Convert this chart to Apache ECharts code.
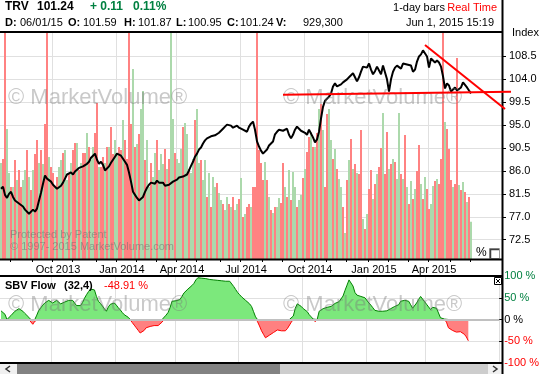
<!DOCTYPE html>
<html><head><meta charset="utf-8">
<script src="https://cdn.jsdelivr.net/npm/echarts@6/dist/echarts.min.js"></script>
<style>html,body{margin:0;padding:0;background:#fff}#c{width:542px;height:374px}</style>
</head><body><div id="c"></div>
<script>
// ---- data (one slot = 2 trading days) ----
const price = [
82.5,82.9,81.3,80.7,81.5,81.9,80.9,80.2,80.0,79.6,
79.4,79.0,78.4,78.2,77.6,77.8,78.4,78.0,78.6,80.2,
81.7,83.5,85.1,84.5,84.3,83.9,83.3,82.9,82.5,82.5,
83.1,83.7,84.5,85.3,85.1,85.7,85.3,85.9,85.9,86.6,
86.3,86.9,86.7,87.4,87.8,88.6,89.0,89.4,88.2,87.4,
87.8,87.2,86.1,85.9,86.9,87.6,88.2,88.8,89.4,89.2,
89.0,88.4,87.8,87.2,85.7,83.9,81.9,81.3,80.7,80.2,
80.2,80.9,81.9,82.7,83.3,83.7,83.9,83.5,84.1,83.7,
83.9,83.7,83.1,82.9,83.3,83.5,83.9,84.1,84.3,84.7,
84.5,84.9,85.1,85.3,86.1,87.0,87.8,88.8,89.4,90.2,
90.6,91.4,92.0,92.4,92.4,92.8,92.8,93.0,93.2,93.5,
93.9,94.3,94.7,95.1,95.1,94.9,94.5,94.7,94.9,94.5,
94.3,94.1,93.9,93.7,94.7,95.3,95.7,94.1,91.8,90.8,
90.0,89.4,89.6,90.2,91.0,91.2,91.8,93.2,93.7,94.1,
94.3,93.9,94.1,94.3,93.1,92.4,93.1,94.1,94.7,94.3,
93.9,93.7,93.5,93.1,94.1,94.3,92.6,91.6,92.2,93.7,
96.3,98.6,99.8,100.0,100.6,101.2,102.6,103.2,102.6,102.8,
103.0,103.4,103.6,104.0,104.4,104.6,105.2,104.4,103.6,104.4,
105.5,106.5,106.7,106.3,107.1,105.9,105.0,105.6,106.5,106.3,
105.0,106.7,106.5,104.0,101.6,104.0,105.5,106.3,106.7,106.7,
106.1,107.1,107.3,106.9,107.1,106.7,105.5,105.9,107.5,108.5,
108.9,109.7,109.5,108.5,106.3,108.1,107.7,107.3,107.7,107.3,
106.5,104.6,102.2,103.2,102.8,101.6,102.0,102.4,101.8,101.6,
102.4,103.4,103.2,102.4,101.8,101.24
];
// volume in thousands of shares
const volume = [
2400,2500,6500,3250,2150,1800,1800,2475,1975,2225,
1800,1975,2225,2725,2050,1725,2225,2625,2975,2400,
2725,2375,3375,6500,2550,2300,2150,1800,2050,2300,
2475,2650,2725,1975,2150,2400,2725,2900,2900,2225,
2400,2650,2650,3150,2800,2475,2800,3150,3900,2300,
2300,2550,2400,2800,2800,3300,2625,2975,2650,2800,
2725,3475,2975,2500,6500,3375,4750,2800,2875,3125,
3750,4200,2475,2975,1800,2400,2050,2650,2975,2225,
2625,2375,2750,2250,2500,6500,3500,2650,2500,2400,
2750,3300,3400,3125,2250,2150,2500,3475,3750,2400,
2475,1975,2475,1550,2150,1300,2050,1800,1900,1650,
1475,1375,1225,1550,1375,1300,1550,1225,1375,1500,
2025,1050,1125,1300,1375,1300,1800,1800,6500,2725,
2400,1975,2425,1975,1550,1225,1150,1300,1300,1525,
1400,2400,1800,1550,2225,1475,2175,1800,1300,1475,
1600,2025,2250,2675,3050,3175,2800,2800,3150,3750,
3875,3225,1800,3625,3750,2975,2500,2750,2250,2000,
1800,1300,650,1975,2475,3000,2250,2375,2150,2125,
3225,1000,750,1125,1750,2225,1500,1875,2125,2300,
2775,3650,2125,3175,2250,2375,2500,2425,2000,3650,
2125,2000,3100,1800,1375,1950,1500,1750,2200,2850,
1875,1500,2050,1750,1250,1375,1825,1950,2000,1875,
2500,6500,3425,3250,2750,1975,1800,1875,5025,1850,
1725,1925,1675,1425,1550,929.3
];
// bar colour: g = green (up volume), r = red (down volume)
const barDirection = [
'grrggrgrgr','rggrgrgrrg','rgrrgrrgrg','grggrgrrgr','grrgrggrrg',
'rrgrgrrggr','rgrrrrgrgr','ggrggrggrg','ggrgrggrgg','grggrggrgg',
'rggrgrggrg','grggrgrggr','grgrrgrrrr','rrgrgrgrgg','rrgrgrggrg',
'grgrrgrgrg','rgrrggrgrg','grgrgrgrgr','rgrgrrgrgr','rgrrgrgrgg',
'rgrgrgrgrr','grgrrggrgr','rrgrrrgrrg','rgrgrg'
].join('');
// SBV Flow (32,4) in %
const sbvFlow = [
20,23,12,-3,4,9,13,19,23,25,
24,19,14,10,5,-1,-11,-4,10,21,
27,33,38,42,44,42,38,41,44,42,
36,36,40,42,44,45,44,42,32,28,
32,39,49,57,64,70,71,68,53,42,
37,31,25,19,29,35,37,38,33,27,
22,16,11,9,5,-1,-7,-13,-19,-25,
-31,-31,-25,-19,-17,-16,-15,-14,-16,-14,
-12,-6,4,10,16,27,42,41,43,42,
46,53,61,65,70,74,78,83,91,96,
95,95,94,94,93,92,92,91,91,90,
90,89,89,88,88,88,87,76,69,62,
57,52,48,44,40,36,30,18,6,-5,
-15,-26,-34,-42,-44,-36,-32,-30,-27,-24,
-23,-26,-30,-26,-21,-17,-6,8,26,36,
38,30,25,24,18,11,6,1,-5,0,
19,22,25,27,28,29,30,34,37,39,
41,42,54,67,79,91,89,77,62,56,
55,53,51,50,46,38,33,27,21,19,
19,20,19,19,20,23,25,27,30,33,
34,42,45,44,43,42,34,26,30,38,
46,53,47,41,35,29,23,28,29,26,
15,4,0,1,-6,-19,-22,-25,-27,-29,
-30,-28,-28,-34,-40,-48.91
];
const slotCount = 251;
const quarterLabels = [[26,'Oct 2013'],[58,'Jan 2014'],[88,'Apr 2014'],[120,'Jul 2014'],[152,'Oct 2014'],[184,'Jan 2015'],[214,'Apr 2015']];
const monthTickSlots = [5,16,26,36,48,58,68,78,88,98,110,120,131,141,152,163,173,184,194,204,214,225,235];
const priceTicks = [72.5,77.0,81.5,86.0,90.5,95.0,99.5,104.0,108.5];
const trendLines = [[[141,100.97],[255,101.55]],[[212,110.76],[252,98.17]]];

// ---- build ----
const FONT = '"Liberation Sans", Arial, Helvetica, sans-serif';
const cats = []; for (let i = 0; i < slotCount; i++) cats.push(String(i));
const qMap = {}; quarterLabels.forEach(q => qMap[q[0]] = q[1]);
const mSet = new Set(monthTickSlots);
const UP = '#acd9ac', DN = '#ff8282';
const volData = volume.map((v, i) => ({value: v, itemStyle: {color: barDirection[i] === 'g' ? UP : DN}}));
const sbvPos = sbvFlow.map(v => v > 0 ? v : 0);
const sbvNeg = sbvFlow.map(v => v < 0 ? v : 0);

function txt(id, x, y, text, size, o) {
  o = o || {};
  return {type:'text', id:id, x:x, y:y, z:o.z || 20, silent:true,
    style:{text:text, font:(o.bold ? 'bold ' : '') + size + 'px ' + FONT, fill:o.color || '#000',
      align:o.align || 'left', verticalAlign:'middle'}};
}
function ln(id, x1, y1, x2, y2, w, c, z) {
  return {type:'line', id:id, z:z || 30, silent:true, shape:{x1:x1,y1:y1,x2:x2,y2:y2}, style:{stroke:c || '#000', lineWidth:w}};
}
function rc(id, x, y, w, h, fill, stroke, z) {
  return {type:'rect', id:id, z:z || 25, silent:true, shape:{x:x,y:y,width:w,height:h}, style:{fill:fill, stroke:stroke || null, lineWidth:1}};
}
const GREEN = '#008040';
const WM = 'rgba(120,120,120,0.4)';
const graphics = [
  txt('h1', 5, 7, 'TRV', 12, {bold:true}),
  txt('h2', 37, 7, '101.24', 12, {bold:true}),
  txt('h3', 90, 7, '+ 0.11', 12, {bold:true, color:GREEN}),
  txt('h4', 133, 7, '0.11%', 12, {bold:true, color:GREEN}),
  txt('h5', 445, 8, '1-day bars', 11, {align:'right'}),
  txt('h6', 497, 8, 'Real Time', 11, {align:'right', color:'#ff0000'}),
  txt('d1', 5, 23, 'D:', 11, {bold:true}), txt('d2', 20, 23, '06/01/15', 11),
  txt('o1', 68, 23, 'O:', 11, {bold:true}), txt('o2', 83, 23, '101.59', 11),
  txt('hh1', 124, 23, 'H:', 11, {bold:true}), txt('hh2', 138, 23, '101.87', 11),
  txt('l1', 176, 23, 'L:', 11, {bold:true}), txt('l2', 188, 23, '100.95', 11),
  txt('c1', 227, 23, 'C:', 11, {bold:true}), txt('c2', 240, 23, '101.24', 11),
  txt('v1', 276, 23, 'V:', 11, {bold:true}), txt('v2', 303, 23, '929,300', 11),
  txt('dt', 494, 23, 'Jun 1, 2015 15:19', 11, {align:'right'}),
  txt('idx', 512, 33, 'Index', 11),
  ln('topline', 0, 32, 502, 32, 2),
  ln('vline', 502.5, 0, 502.5, 374, 2),
  ln('pbot', 0, 259.5, 502, 259.5, 2),
  ln('stop', 0, 276, 502, 276, 2),
  ln('sbot', 0, 363, 502, 363, 2),
  txt('wm1', 8, 98, '\u00a9 MarketVolume\u00ae', 22, {color:WM, z:15}),
  txt('wm2', 283, 98, '\u00a9 MarketVolume\u00ae', 22, {color:WM, z:15}),
  txt('wm3', 8, 305, '\u00a9 MarketVolume\u00ae', 22, {color:WM, z:15}),
  txt('wm4', 283, 305, '\u00a9 MarketVolume\u00ae', 22, {color:WM, z:15}),
  txt('pt1', 10, 235, 'Protected by Patent', 11, {color:'rgba(110,110,110,0.55)', z:15}),
  txt('pt2', 10, 247, '\u00a9 1997- 2015 MarketVolume.com', 11, {color:'rgba(110,110,110,0.55)', z:15}),
  txt('pc', 476, 253, '%', 12),
  rc('cb', 489.5, 248.5, 10, 10, '#fff', '#999'),
  {type:'polyline', id:'cbi', z:26, silent:true, shape:{points:[[490.5,258],[490.5,249.5],[499,249.5]]}, style:{stroke:'#404040', lineWidth:1.5, fill:null}},
  txt('s1', 5, 286, 'SBV Flow', 11, {bold:true}),
  txt('s2', 64, 286, '(32,4)', 11, {bold:true}),
  txt('s3', 104, 286, '-48.91 %', 11, {color:'#ff0000'}),
  rc('xb', 494.5, 277.5, 7, 7, '#fff', '#000'),
  ln('x1', 496, 279, 500, 283, 1), ln('x2', 500, 279, 496, 283, 1),
  rc('sbl', 0, 364, 17, 10, '#f0f0f0'),
  rc('sbt', 17, 364, 263, 10, '#828282'),
  rc('sbr', 280, 364, 208, 10, '#cdcdcd'),
  rc('sbb', 488, 364, 14, 10, '#f0f0f0'),
  {type:'polyline', id:'al', z:30, silent:true, shape:{points:[[10,366],[6,369],[10,372]]}, style:{stroke:'#333', lineWidth:1.5, fill:null}},
  {type:'polyline', id:'ar', z:30, silent:true, shape:{points:[[493,366],[497,369],[493,372]]}, style:{stroke:'#333', lineWidth:1.5, fill:null}}
];

const chart = echarts.init(document.getElementById('c'), null, {renderer:'canvas'});
const option = {
  animation:false,
  backgroundColor:'#fff',
  textStyle:{fontFamily:FONT},
  grid:[
    {left:0, top:32, width:502, height:227, containLabel:false},
    {left:0, top:276, width:502, height:87, containLabel:false}
  ],
  xAxis:[
    {type:'category', gridIndex:0, data:cats, boundaryGap:true,
     axisLine:{show:false},
     axisTick:{show:true, interval:(i) => mSet.has(i), length:3, lineStyle:{color:'#000'}},
     axisLabel:{show:true, interval:(i) => qMap[i] !== undefined, formatter:(v, i) => qMap[i] || '',
       fontSize:11, color:'#000', margin:5, padding:[0,0,0,10], fontFamily:FONT},
     splitLine:{show:true, interval:(i) => qMap[i] !== undefined, lineStyle:{color:'#e0e0e0', width:1}}},
    {type:'category', gridIndex:1, data:cats, boundaryGap:true,
     axisLine:{show:false}, axisTick:{show:false}, axisLabel:{show:false},
     splitLine:{show:true, interval:(i) => qMap[i] !== undefined, lineStyle:{color:'#e0e0e0', width:1}}}
  ],
  yAxis:[
    {type:'value', gridIndex:0, position:'right', min:68.7, max:113.3, scale:true,
     axisLine:{show:false},
     axisTick:{show:true, customValues:priceTicks, length:4, lineStyle:{color:'#000'}},
     axisLabel:{customValues:priceTicks, formatter:(v) => Number(v).toFixed(1), fontSize:11, color:'#000', margin:7, fontFamily:FONT},
     splitLine:{show:true, lineStyle:{color:'#e0e0e0', width:1}}},
    {type:'value', gridIndex:0, min:0, max:5675, show:false, splitLine:{show:false}},
    {type:'value', gridIndex:1, position:'right', min:-100, max:100, interval:50,
     axisLine:{show:false},
     axisTick:{show:true, length:3, lineStyle:{color:'#000'}},
     axisLabel:{formatter:(v) => v + ' %', fontSize:11, margin:5, fontFamily:FONT,
       color:(v) => { v = Number(v); return v > 0 ? GREEN : (v < 0 ? '#ff0000' : '#000'); }},
     splitLine:{show:true, lineStyle:{color:'#e0e0e0', width:1}}}
  ],
  series:[
    {type:'bar', name:'Volume', xAxisIndex:0, yAxisIndex:1, data:volData, barCategoryGap:'0%', barGap:'0%', z:1, silent:true},
    {type:'line', name:'TRV', xAxisIndex:0, yAxisIndex:0, data:price, symbol:'none', z:3, silent:true,
     lineStyle:{color:'#000', width:2}},
    {type:'line', name:'SBV up', xAxisIndex:1, yAxisIndex:2, data:sbvPos, symbol:'none', z:2, silent:true,
     lineStyle:{color:'#008000', width:1}, areaStyle:{color:'#7ce87c', opacity:1}},
    {type:'line', name:'SBV down', xAxisIndex:1, yAxisIndex:2, data:sbvNeg, symbol:'none', z:2, silent:true,
     lineStyle:{color:'#ff0000', width:1}, areaStyle:{color:'#ff8080', opacity:1}},
    {type:'line', name:'zero', xAxisIndex:1, yAxisIndex:2, data:[], symbol:'none', z:5, silent:true,
     markLine:{silent:true, symbol:'none', label:{show:false}, lineStyle:{color:'#c0c0c0', width:2, type:'solid'},
       data:[{yAxis:0}]}}
  ],
  graphic:{elements:graphics}
};
chart.setOption(option);

// trend lines drawn from data coordinates (linear extrapolation of the category scale past the last slot)
try {
  const xa = chart.convertToPixel({xAxisIndex:0}, 0);
  const xb = chart.convertToPixel({xAxisIndex:0}, slotCount - 1);
  const xPix = (s) => xa + s * (xb - xa) / (slotCount - 1);
  const yPix = (v) => chart.convertToPixel({yAxisIndex:0}, v);
  const tl = trendLines.map((seg, k) => ({
    type:'line', id:'trend' + k, z:40, silent:true,
    shape:{x1:xPix(seg[0][0]), y1:yPix(seg[0][1]), x2:xPix(seg[1][0]), y2:yPix(seg[1][1])},
    style:{stroke:'#ff0000', lineWidth:2}
  }));
  chart.setOption({graphic:{elements:tl}});
} catch (e) { console.log(e); }
</script>
</body></html>
